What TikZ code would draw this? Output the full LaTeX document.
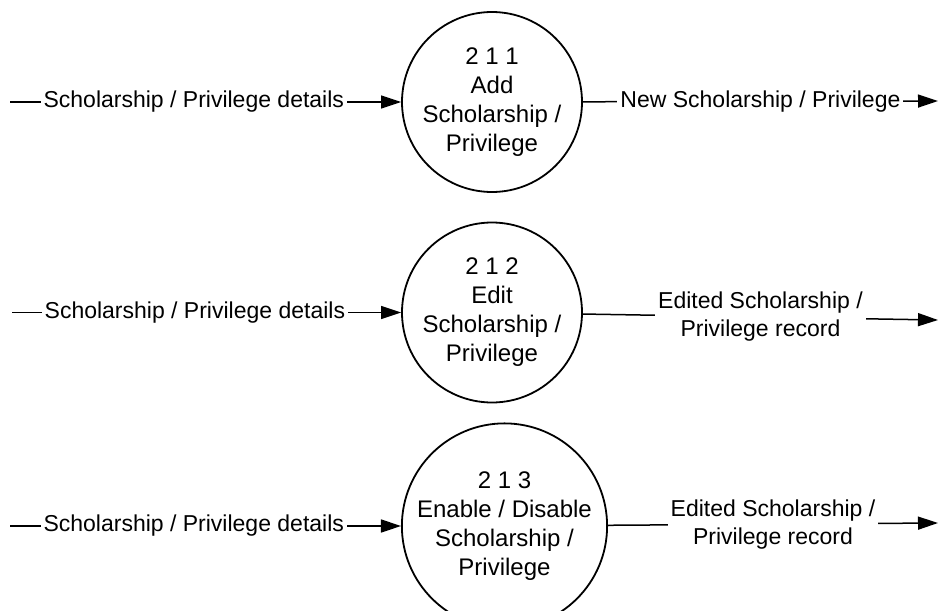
\documentclass[tikz,border=0pt]{standalone}
\usepackage{fontspec}
\setmainfont{Liberation Sans}
\usetikzlibrary{arrows.meta, shapes.geometric}

\begin{document}
\begin{tikzpicture}[x=0.5pt,y=-0.5pt,line width=0.75pt,
    font=\fontsize{11.5}{14}\selectfont,
    proc/.style={circle,draw,line width=0.9pt,minimum size=90pt,inner sep=0pt,align=center,
        font=\fontsize{12}{14.5}\selectfont},
    flow/.style={-{Triangle[length=10pt,width=6.5pt]}},
    lbl/.style={fill=white,inner sep=1.5pt,align=center}]
\useasboundingbox (0,0) rectangle (938,611);

% Processes
\node[proc] (p1) at (492,102) {2 1 1\\Add\\Scholarship /\\Privilege};
\node[proc] (p2) at (492,312.5) {2 1 2\\Edit\\Scholarship /\\Privilege};
\node[proc,minimum size=91.5pt] (p3) at (504.5,526) {2 1 3\\Enable / Disable\\Scholarship /\\Privilege};

% Incoming flows
\foreach \n/\x/\y in {1/10/102, 2/12/312.5, 3/10/526} {
    \coordinate (in\n) at (\x,\y);
    \draw[flow] (in\n) -- node[lbl,pos=0.47] {Scholarship / Privilege details} (p\n);
}

% Outgoing flows
\coordinate (out1) at (938,101);
\coordinate (out2) at (938,320);
\coordinate (out3) at (938,523);
\draw[flow] (p1) -- node[lbl] {New Scholarship / Privilege} (out1);
\draw[flow] (p2) -- node[lbl] {Edited Scholarship /\\Privilege record} (out2);
\draw[flow] (p3) -- node[lbl] {Edited Scholarship /\\Privilege record} (out3);
\end{tikzpicture}
\end{document}
